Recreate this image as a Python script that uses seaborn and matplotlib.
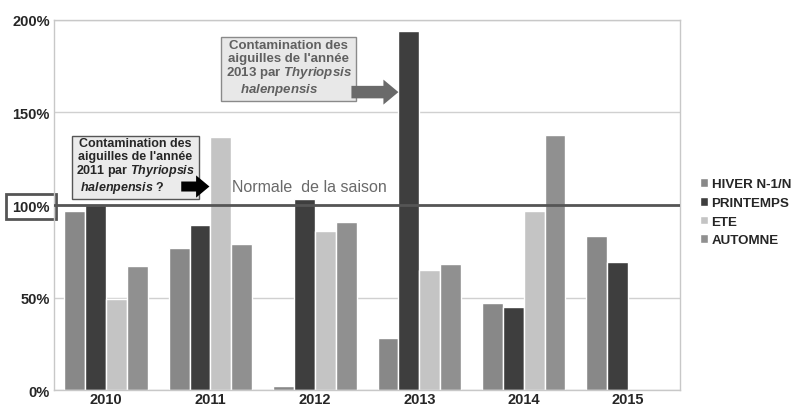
import numpy as np
import pandas as pd
import seaborn as sns
from matplotlib import pyplot as plt
from matplotlib.ticker import FuncFormatter

# values (% of the seasonal normal)
years = ["2010", "2011", "2012", "2013", "2014", "2015"]
hiver = [97, 77, 2, 28, 47, 83]
printemps = [100, 89, 103, 194, 45, 69]
ete = [49, 137, 86, 65, 97, np.nan]
automne = [67, 79, 91, 68, 138, np.nan]
seasons = ["HIVER N-1/N", "PRINTEMPS", "ETE", "AUTOMNE"]
colors = ["#888888", "#3e3e3e", "#c4c4c4", "#909090"]
yticks = [0, 50, 100, 150, 200]
normal = 100

df = pd.DataFrame({"annee": years * 4,
                   "saison": np.repeat(seasons, len(years)),
                   "valeur": hiver + printemps + ete + automne})

sns.set_style("white")
plt.rcParams["font.family"] = ["Liberation Sans", "DejaVu Sans"]
plt.rcParams["mathtext.fontset"] = "custom"
plt.rcParams["mathtext.it"] = "Liberation Sans:italic:bold"
plt.rcParams["mathtext.rm"] = "Liberation Sans:bold"

fig = plt.figure(figsize=(7.92, 4.10), dpi=100)
ax = fig.add_axes([0.068, 0.046, 0.791, 0.903])

sns.barplot(data=df, x="annee", y="valeur", hue="saison", order=years,
            hue_order=seasons, palette=colors, width=0.8, saturation=1,
            ax=ax, zorder=2)

ax.set_ylim(0, 200)
ax.set_yticks(yticks)
ax.yaxis.set_major_formatter(FuncFormatter(lambda v, p: f"{v:.0f}%"))
ax.grid(axis="y", color="#d0d0d0", linewidth=1, zorder=0)
ax.set_axisbelow(True)
for s in ax.spines.values():
    s.set_color("#c8c8c8")
    s.set_linewidth(1)
ax.tick_params(axis="both", length=0, labelsize=10.5, pad=3)
ax.tick_params(axis="x", pad=1.5)
for lab in ax.get_xticklabels() + ax.get_yticklabels():
    lab.set_fontweight("bold")
ax.set_xlabel("")
ax.set_ylabel("")

# normal line
ax.axhline(normal, color="#555555", linewidth=2, zorder=3)
ax.text(1.21, 106, "Normale  de la saison", fontsize=11.5, color="#6a6a6a",
        va="bottom", ha="left")

# frame around the 100% label
lab100 = ax.get_yticklabels()[2]
lab100.set_bbox(dict(facecolor="none", edgecolor="#555555", linewidth=2,
                     boxstyle="square,pad=0.4"))

# annotations
ax.text(0.28, 121, "Contamination des\naiguilles de l'année\n2011 par $Thyriopsis$\n$halenpensis$ ?        ",
        fontsize=9, fontweight="bold", ha="center", va="center", linespacing=1.05,
        bbox=dict(facecolor="#ebebeb", edgecolor="#555555", linewidth=1,
                  boxstyle="square,pad=0.3"), zorder=5)
ax.annotate("", xy=(0.99, 110), xytext=(0.72, 110),
            arrowprops=dict(arrowstyle="simple,head_width=1.0,head_length=0.6,tail_width=0.45",
                            mutation_scale=16, color="black", lw=0,
                            shrinkA=0, shrinkB=0), zorder=6)

ax.text(1.75, 174, "Contamination des\naiguilles de l'année\n2013 par $Thyriopsis$\n$halenpensis$      ",
        fontsize=9.5, fontweight="bold", color="#606060", ha="center", va="center",
        linespacing=1.05,
        bbox=dict(facecolor="#e8e8e8", edgecolor="#8a8a8a", linewidth=1,
                  boxstyle="square,pad=0.35"), zorder=5)
ax.annotate("", xy=(2.8, 161), xytext=(2.35, 161),
            arrowprops=dict(arrowstyle="simple,head_width=1.0,head_length=0.6,tail_width=0.5",
                            mutation_scale=18, color="#6a6a6a", lw=0,
                            shrinkA=0, shrinkB=0), zorder=6)

leg = ax.legend(loc="center left", bbox_to_anchor=(1.018, 0.48), frameon=False,
                handlelength=0.6, handleheight=0.6, handletextpad=0.3,
                labelspacing=0.5, fontsize=9.6, borderaxespad=0.2)
for t in leg.get_texts():
    t.set_fontweight("bold")

fig.savefig("out.png", dpi=100)
